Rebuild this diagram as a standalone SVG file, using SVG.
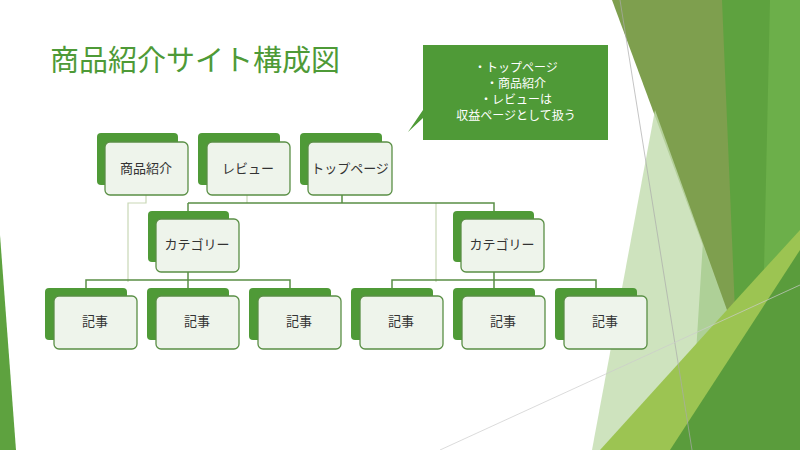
<svg xmlns="http://www.w3.org/2000/svg" width="800" height="450" viewBox="0 0 800 450">
<style>
.b{fill:#4f9a37}
.f{fill:#eef4eb;stroke:#5a8f45;stroke-width:1.3}
.t{font-family:"Noto Sans CJK JP","Noto Sans",sans-serif;font-size:13px;fill:#333;text-anchor:middle}
.c{stroke:#5a8f45;stroke-width:1.5;fill:none}
.l{stroke:#c9d8b6;stroke-width:1.2;fill:none}
</style>
<rect width="800" height="450" fill="#fff"/>
<g id="bg">
<polygon points="718,0 800,0 800,450 690,450" fill="#5ea23f"/>
<polygon points="770,0 800,0 800,450 760,450" fill="#6caf4a"/>
<polygon points="612,0 722,0 736,335" fill="#7e9f4e"/>
<polygon points="655,110 736,335 622,450 592,450" fill="#c2dcae" opacity="0.8"/>
<polygon points="736,300 800,230 800,450 600,450" fill="#9cc452"/>
<polygon points="800,250 800,450 670,450" fill="#5a9c3c"/>
<line x1="620" y1="0" x2="692" y2="450" stroke="#aaa" stroke-width="0.7"/>
<line x1="440" y1="450" x2="800" y2="285" stroke="#ccc" stroke-width="0.7"/>
<polygon points="0,235 16,450 0,450" fill="#5ea23f"/>
</g>
<text x="50" y="71" font-family="Noto Sans CJK JP,sans-serif" font-size="29" fill="#4e9a37">商品紹介サイト構成図</text>
<g id="callout">
<polygon points="423,45 608,45 608,140 423,140 423,118 408,132 423,110" fill="#4f9a37"/>
<g font-family="Noto Sans CJK JP,sans-serif" font-size="12" fill="#fff" text-anchor="middle">
<text x="516" y="72">・トップページ</text>
<text x="516" y="88">・商品紹介</text>
<text x="516" y="104">・レビューは</text>
<text x="516" y="120">収益ページとして扱う</text>
</g>
</g>
<g id="connectors">
<path class="l" d="M146,195V203H128V282M247,195V203M436,203V282"/>
<path class="c" d="M342,195V203M188,203H494V219M188,203V280M86,288V280H290V288M188,280V288M392,288V280H596V288M494,272V288"/>
</g>
<g id="n1"><rect class="b" x="97" y="133" width="81" height="52" rx="4"/><rect class="f" x="105" y="142" width="83" height="53" rx="5"/><text class="t" x="146" y="173">商品紹介</text></g>
<g id="n2"><rect class="b" x="198" y="133" width="82" height="52" rx="4"/><rect class="f" x="207" y="142" width="83" height="53" rx="5"/><text class="t" x="248" y="173">レビュー</text></g>
<g id="n3"><rect class="b" x="300" y="133" width="82" height="52" rx="4"/><rect class="f" x="308" y="142" width="84" height="53" rx="5"/><text class="t" x="350" y="173">トップページ</text></g>
<g id="c1"><rect class="b" x="148" y="211" width="81" height="51" rx="4"/><rect class="f" x="156" y="219" width="83" height="53" rx="5"/><text class="t" x="197" y="249">カテゴリー</text></g>
<g id="c2"><rect class="b" x="453" y="211" width="81" height="51" rx="4"/><rect class="f" x="461" y="219" width="83" height="53" rx="5"/><text class="t" x="502" y="249">カテゴリー</text></g>
<g id="a1"><rect class="b" x="45" y="288" width="82" height="52" rx="4"/><rect class="f" x="54" y="296" width="83" height="53" rx="5"/><text class="t" x="95" y="326">記事</text></g>
<g id="a2"><rect class="b" x="147" y="288" width="82" height="52" rx="4"/><rect class="f" x="156" y="296" width="83" height="53" rx="5"/><text class="t" x="197" y="326">記事</text></g>
<g id="a3"><rect class="b" x="249" y="288" width="82" height="52" rx="4"/><rect class="f" x="258" y="296" width="83" height="53" rx="5"/><text class="t" x="299" y="326">記事</text></g>
<g id="a4"><rect class="b" x="351" y="288" width="82" height="52" rx="4"/><rect class="f" x="360" y="296" width="83" height="53" rx="5"/><text class="t" x="401" y="326">記事</text></g>
<g id="a5"><rect class="b" x="453" y="288" width="82" height="52" rx="4"/><rect class="f" x="462" y="296" width="83" height="53" rx="5"/><text class="t" x="503" y="326">記事</text></g>
<g id="a6"><rect class="b" x="555" y="288" width="82" height="52" rx="4"/><rect class="f" x="564" y="296" width="83" height="53" rx="5"/><text class="t" x="605" y="326">記事</text></g>
</svg>
